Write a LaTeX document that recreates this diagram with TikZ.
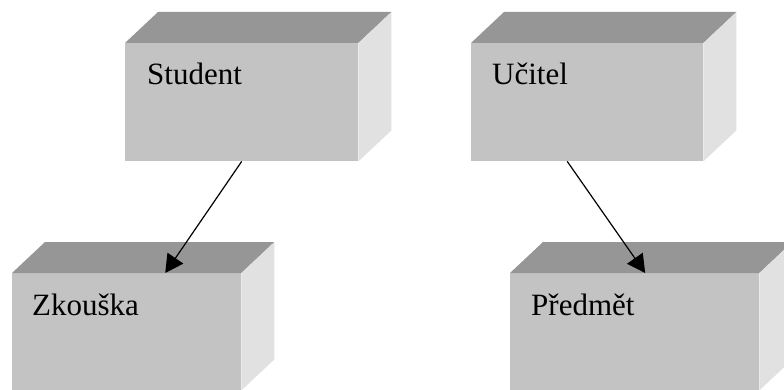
\documentclass[tikz,border=0pt]{standalone}
\usepackage{fontspec}
\setmainfont{Liberation Serif}
\usetikzlibrary{arrows.meta,calc}
\definecolor{frontgray}{RGB}{195,195,195}
\definecolor{topgray}{RGB}{150,150,150}
\definecolor{sidegray}{RGB}{225,225,225}
% top and right faces of a cuboid whose front face is the node #1
\newcommand\cuboidfaces[1]{%
  \fill[topgray] (#1.north west) -- ++(33,-31) -- ($(#1.north east)+(33,-31)$) -- (#1.north east) -- cycle;
  \fill[sidegray] (#1.north east) -- ++(33,-31) -- ($(#1.south east)+(33,-31)$) -- (#1.south east) -- cycle;
}
\begin{document}
\begin{tikzpicture}[x=1pt,y=-1pt,
  frontface/.style={rectangle, fill=frontgray, draw=none, inner sep=0pt, anchor=north west},
  lbl/.style={anchor=base west, inner sep=0pt, font=\fontsize{31}{36}\selectfont, text=black},
  link/.style={draw=black, line width=1.2pt, -{Triangle[length=18pt,width=19pt]}}]
\useasboundingbox (0,0) rectangle (784,390);
\clip (0,0) rectangle (784,390);

% front faces
\node[frontface, minimum width=233pt, minimum height=118pt] (student) at (125,43) {};
\node[frontface, minimum width=232pt, minimum height=118pt] (ucitel) at (471,43) {};
\node[frontface, minimum width=229pt, minimum height=117pt] (zkouska) at (12,273) {};
\node[frontface, minimum width=249pt, minimum height=117pt] (predmet) at (510,273) {};

\cuboidfaces{student}
\cuboidfaces{ucitel}
\cuboidfaces{zkouska}
\cuboidfaces{predmet}

% labels
\node[lbl] (studentlbl) at ($(student.north west)+(22,42)$) {Student};
\node[lbl] (ucitellbl) at ($(ucitel.north west)+(21,42)$) {Učitel};
\node[lbl] (zkouskalbl) at ($(zkouska.north west)+(20,42)$) {Zkouška};
\node[lbl] (predmetlbl) at ($(predmet.north west)+(21,42)$) {Předmět};

% connectors
\coordinate (zkin) at ($(zkouska.north west)!0.668!(zkouska.north east)$);
\coordinate (ucout) at ($(ucitel.south west)!0.414!(ucitel.south east)$);
\coordinate (prin) at ($(predmet.north west)!0.542!(predmet.north east)$);
\draw[link] (student.south) -- (zkin);
\draw[link] (ucout) -- (prin);
\end{tikzpicture}
\end{document}
